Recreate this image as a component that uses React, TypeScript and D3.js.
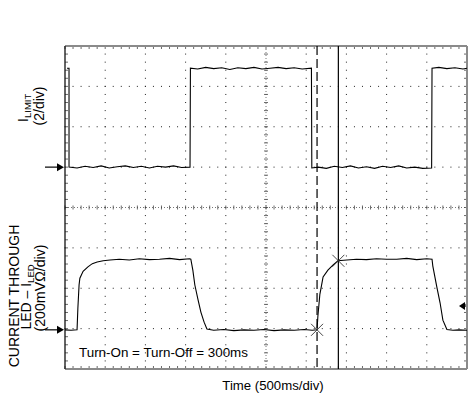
import React from "react";
import * as d3 from "d3";

// Time axis in divisions (500 ms/div), vertical in divisions
const limitTime = [0.05,0.1,0.1,0.3,0.5,0.7,0.9,1.1,1.3,1.5,1.7,1.9,2.1,2.3,2.5,2.7,2.9,3.11,3.12,3.3,3.5,3.7,3.9,4.1,4.3,4.5,4.7,4.9,5.1,5.3,5.5,5.7,5.9,6.13,6.14,6.3,6.5,6.7,6.9,7.1,7.3,7.5,7.7,7.9,8.1,8.3,8.5,8.7,8.9,9.12,9.13,9.3,9.5,9.7,9.9,10];
const limitLevel = [7.45,7.45,5.0,4.98,5.02,4.99,5.03,4.98,5.01,5.03,4.99,5.02,4.98,5.02,5.0,5.03,4.99,5.0,7.45,7.43,7.47,7.44,7.46,7.42,7.46,7.44,7.47,7.43,7.45,7.47,7.44,7.46,7.43,7.45,4.98,5.0,4.97,5.02,4.99,5.03,4.98,5.01,4.97,5.02,4.99,5.03,4.98,5.0,4.97,4.98,7.45,7.47,7.44,7.46,7.43,7.45];

const ledTime = [0,0.15,0.3,0.32,0.35,0.37,0.45,0.57,0.68,0.8,0.95,1.12,1.35,1.6,1.85,2.1,2.35,2.6,2.85,3.1,3.13,3.18,3.23,3.31,3.38,3.46,3.53,3.7,3.95,4.2,4.45,4.7,4.95,5.2,5.45,5.7,5.95,6.15,6.27,6.29,6.34,6.37,6.42,6.54,6.67,6.79,7.01,7.25,7.5,7.75,8.0,8.25,8.5,8.75,9.0,9.13,9.15,9.25,9.33,9.4,9.5,9.65,9.8,10];
const ledLevel = [0.97,0.96,0.97,1.5,2.08,2.25,2.42,2.53,2.61,2.65,2.68,2.7,2.72,2.7,2.73,2.71,2.72,2.74,2.71,2.73,2.72,2.45,2.08,1.71,1.41,1.16,0.99,0.96,0.98,0.95,0.97,0.96,0.98,0.95,0.97,0.96,0.98,0.96,0.97,1.3,1.85,2.01,2.28,2.45,2.58,2.68,2.7,2.72,2.71,2.73,2.72,2.72,2.74,2.71,2.73,2.72,2.55,2.03,1.64,1.21,0.98,0.96,0.97,0.96];

const cursorTimes = [6.27, 6.8];
const markerTimes = [6.27, 6.8];
const markerLevels = [0.97, 2.68];
const groundLevels = [5.0, 0.97];
const triggerLevel = 1.56;

const W = 469, H = 396;
const L = 65, R = 467, T = 46, B = 369;

export default function App() {
  const x = d3.scaleLinear().domain([0, 10]).range([L, R]);
  const y = d3.scaleLinear().domain([0, 8]).range([B, T]);
  const line = d3.line<[number, number]>().x(d => x(d[0])).y(d => y(d[1]));
  const limitPath = line(limitTime.map((t, i) => [t, limitLevel[i]] as [number, number])) || "";
  const ledPath = line(ledTime.map((t, i) => [t, ledLevel[i]] as [number, number])) || "";

  const minorX = d3.range(0, 10.001, 0.2);
  const minorY = d3.range(0, 8.001, 0.2);
  const majorX = d3.range(1, 10).filter(v => v !== 5);
  const majorY = d3.range(1, 8).filter(v => v !== 4);

  const dots: React.ReactNode[] = [];
  majorX.forEach(gx => minorY.forEach((my, j) => dots.push(
    <rect key={`vx${gx}-${j}`} x={x(gx) - 0.5} y={y(my) - 0.5} width={1} height={1} fill="#222" />)));
  majorY.forEach(gy => minorX.forEach((mx, j) => dots.push(
    <rect key={`hy${gy}-${j}`} x={x(mx) - 0.5} y={y(gy) - 0.5} width={1} height={1} fill="#222" />)));

  const ticks: React.ReactNode[] = [];
  minorY.forEach((my, j) => {
    ticks.push(<line key={`cl${j}`} x1={x(5) - 2} x2={x(5) + 2} y1={y(my)} y2={y(my)} stroke="#444" strokeWidth={0.8} />);
    ticks.push(<line key={`el${j}`} x1={L} x2={L + 3} y1={y(my)} y2={y(my)} stroke="#444" strokeWidth={0.8} />);
    ticks.push(<line key={`er${j}`} x1={R - 3} x2={R} y1={y(my)} y2={y(my)} stroke="#444" strokeWidth={0.8} />);
  });
  minorX.forEach((mx, j) => {
    ticks.push(<line key={`ch${j}`} x1={x(mx)} x2={x(mx)} y1={y(4) - 2} y2={y(4) + 2} stroke="#444" strokeWidth={0.8} />);
    ticks.push(<line key={`et${j}`} x1={x(mx)} x2={x(mx)} y1={T} y2={T + 3} stroke="#444" strokeWidth={0.8} />);
    ticks.push(<line key={`eb${j}`} x1={x(mx)} x2={x(mx)} y1={B - 3} y2={B} stroke="#444" strokeWidth={0.8} />);
  });

  const font = "Liberation Sans, Arial, sans-serif";

  return (
    <svg width={W} height={H} style={{ position: "absolute", left: 0, top: 0, background: "#fff" }}>
      <rect x={0} y={0} width={W} height={H} fill="#fff" />
      {dots}
      <line x1={x(5)} x2={x(5)} y1={T} y2={B} stroke="#555" strokeWidth={0.8} strokeDasharray="1 2" />
      <line x1={L} x2={R} y1={y(4)} y2={y(4)} stroke="#555" strokeWidth={0.8} strokeDasharray="1 2" />
      {ticks}
      <line x1={L} x2={R} y1={T} y2={T} stroke="#8a8a8a" strokeWidth={2} />
      <line x1={L} x2={R} y1={B} y2={B} stroke="#8a8a8a" strokeWidth={2} />
      <line x1={R} x2={R} y1={T} y2={B} stroke="#8a8a8a" strokeWidth={2} />
      <line x1={L} x2={L} y1={T} y2={B} stroke="#111" strokeWidth={1.3} />

      <path d={limitPath} fill="none" stroke="#000" strokeWidth={1.1} />
      <path d={ledPath} fill="none" stroke="#000" strokeWidth={1.1} />

      <line x1={x(cursorTimes[0])} x2={x(cursorTimes[0])} y1={T} y2={B} stroke="#000" strokeWidth={1.2} strokeDasharray="9 4" />
      <line x1={x(cursorTimes[1])} x2={x(cursorTimes[1])} y1={T} y2={B} stroke="#000" strokeWidth={1.2} />

      {markerTimes.map((t, i) => (
        <g key={`m${i}`} stroke="#333" strokeWidth={0.9}>
          <line x1={x(t) - 6} x2={x(t) + 6} y1={y(markerLevels[i]) - 6} y2={y(markerLevels[i]) + 6} />
          <line x1={x(t) - 6} x2={x(t) + 6} y1={y(markerLevels[i]) + 6} y2={y(markerLevels[i]) - 6} />
        </g>
      ))}

      {groundLevels.map((g, i) => (
        <g key={`g${i}`}>
          <line x1={45} x2={58} y1={y(g)} y2={y(g)} stroke="#000" strokeWidth={1.2} />
          <path d={`M${L - 1},${y(g)} L${L - 8},${y(g) - 4} L${L - 8},${y(g) + 4} Z`} fill="#000" />
        </g>
      ))}
      <path d={`M${R - 8},${y(triggerLevel)} L${R - 2},${y(triggerLevel) - 4} L${R - 2},${y(triggerLevel) + 4} Z`} fill="#000" />
      <line x1={R - 4} x2={R - 1} y1={y(triggerLevel)} y2={y(triggerLevel)} stroke="#000" strokeWidth={1.2} />

      <text transform="translate(28,108) rotate(-90)" textAnchor="middle" fontFamily={font} fontSize={15} fill="#000">
        I<tspan fontSize={9.5} dy={3}>LIMIT</tspan>
      </text>
      <text transform="translate(44,106) rotate(-90)" textAnchor="middle" fontFamily={font} fontSize={14} fill="#000">(2/div)</text>

      <text transform="translate(19,296) rotate(-90)" textAnchor="middle" fontFamily={font} fontSize={14} fill="#000">CURRENT THROUGH</text>
      <text transform="translate(31,297) rotate(-90)" textAnchor="middle" fontFamily={font} fontSize={14} fill="#000">
        LED – I<tspan fontSize={9.5} dy={2.5}>LED</tspan>
      </text>
      <text transform="translate(45,288) rotate(-90)" textAnchor="middle" fontFamily={font} fontSize={14.2} fill="#000">(200mVΩ/div)</text>

      <text x={79} y={357} fontFamily={font} fontSize={13.4} fill="#000">Turn-On = Turn-Off = 300ms</text>
      <text x={273} y={390} textAnchor="middle" fontFamily={font} fontSize={13.2} fill="#000">Time (500ms/div)</text>
    </svg>
  );
}
